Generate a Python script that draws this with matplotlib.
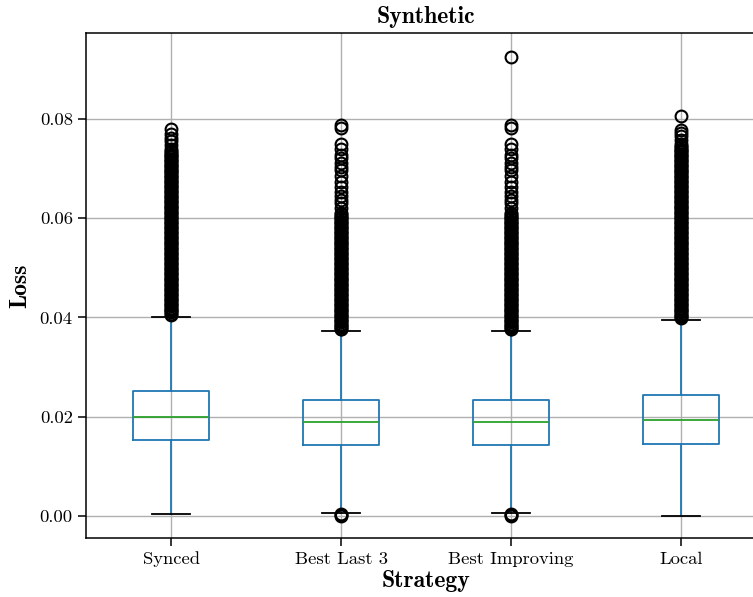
import matplotlib
matplotlib.use('Agg')
import matplotlib.pyplot as plt

plt.rcParams['font.family'] = 'cmr10'
plt.rcParams['axes.formatter.use_mathtext'] = True

strategies = ['Synced', 'Best Last 3', 'Best Improving', 'Local']

# box statistics per strategy
q1 = [0.0153, 0.0143, 0.0143, 0.0145]
med = [0.0199, 0.0189, 0.0189, 0.0193]
q3 = [0.0252, 0.0234, 0.0234, 0.0244]
whislo = [0.0004, 0.0006, 0.0006, 0.0001]
whishi = [0.0401, 0.0373, 0.0373, 0.0395]

# outliers
fliers_synced = [
    0.04050, 0.04075, 0.04100, 0.04125, 0.04150, 0.04175,
    0.04200, 0.04225, 0.04250, 0.04275, 0.04300, 0.04325, 0.04350, 0.04375,
    0.04400, 0.04425, 0.04450, 0.04475, 0.04500, 0.04525, 0.04550, 0.04575,
    0.04600, 0.04625, 0.04650, 0.04675, 0.04700, 0.04725, 0.04750, 0.04775,
    0.04800, 0.04825, 0.04850, 0.04875, 0.04900, 0.04925, 0.04950, 0.04975,
    0.05000, 0.05025, 0.05050, 0.05075, 0.05100, 0.05125, 0.05150, 0.05175,
    0.05200, 0.05225, 0.05250, 0.05275, 0.05300, 0.05325, 0.05350, 0.05375,
    0.05400, 0.05425, 0.05450, 0.05475, 0.05500, 0.05525, 0.05550, 0.05575,
    0.05600, 0.05625, 0.05650, 0.05675, 0.05700, 0.05725, 0.05750, 0.05775,
    0.05800, 0.05825, 0.05850, 0.05875, 0.05900, 0.05925, 0.05950, 0.05975,
    0.06000, 0.06025, 0.06050, 0.06075, 0.06100, 0.06125, 0.06150, 0.06175,
    0.06200, 0.06225, 0.06250, 0.06275, 0.06300, 0.06325, 0.06350, 0.06375,
    0.06400, 0.06425, 0.06450, 0.06475, 0.06500, 0.06525, 0.06550, 0.06575,
    0.06600, 0.06625, 0.06650, 0.06675, 0.06700, 0.06725, 0.06750, 0.06775,
    0.06800, 0.06825, 0.06850, 0.06875, 0.06900, 0.06925, 0.06950, 0.06975,
    0.07000, 0.07025, 0.07050, 0.07075, 0.07100, 0.07125, 0.07150, 0.07175,
    0.07200, 0.07225, 0.07250, 0.07275, 0.07300, 0.07325, 0.07350,
    0.0740, 0.0748, 0.0755, 0.0762, 0.0770, 0.0780,
]
fliers_last3 = [
    0.0000, 0.0002, 0.0004,
    0.03760, 0.03775, 0.03800, 0.03825, 0.03850, 0.03875, 0.03900, 0.03925,
    0.03950, 0.03975, 0.04000, 0.04025, 0.04050, 0.04075, 0.04100, 0.04125,
    0.04150, 0.04175, 0.04200, 0.04225, 0.04250, 0.04275, 0.04300, 0.04325,
    0.04350, 0.04375, 0.04400, 0.04425, 0.04450, 0.04475, 0.04500, 0.04525,
    0.04550, 0.04575, 0.04600, 0.04625, 0.04650, 0.04675, 0.04700, 0.04725,
    0.04750, 0.04775, 0.04800, 0.04825, 0.04850, 0.04875, 0.04900, 0.04925,
    0.04950, 0.04975, 0.05000, 0.05025, 0.05050, 0.05075, 0.05100, 0.05125,
    0.05150, 0.05175, 0.05200, 0.05225, 0.05250, 0.05275, 0.05300, 0.05325,
    0.05350, 0.05375, 0.05400, 0.05425, 0.05450, 0.05475, 0.05500, 0.05525,
    0.05550, 0.05575, 0.05600, 0.05625, 0.05650, 0.05675, 0.05700, 0.05725,
    0.05750, 0.05775, 0.05800, 0.05825, 0.05850, 0.05875, 0.05900, 0.05925,
    0.05950, 0.05975, 0.06000, 0.06025, 0.06050, 0.06075, 0.06100,
    0.0620, 0.0630, 0.0637, 0.0645, 0.0653, 0.0663, 0.0673, 0.0685, 0.0697,
    0.0703, 0.0712, 0.0721, 0.0727, 0.0740, 0.0750, 0.0782, 0.0788,
]
# same spread as Best Last 3, plus one far outlier
fliers_improving = fliers_last3 + [0.0925]
fliers_local = [
    0.03980, 0.04000, 0.04025, 0.04050, 0.04075, 0.04100, 0.04125, 0.04150, 0.04175,
    0.04200, 0.04225, 0.04250, 0.04275, 0.04300, 0.04325, 0.04350, 0.04375,
    0.04400, 0.04425, 0.04450, 0.04475, 0.04500, 0.04525, 0.04550, 0.04575,
    0.04600, 0.04625, 0.04650, 0.04675, 0.04700, 0.04725, 0.04750, 0.04775,
    0.04800, 0.04825, 0.04850, 0.04875, 0.04900, 0.04925, 0.04950, 0.04975,
    0.05000, 0.05025, 0.05050, 0.05075, 0.05100, 0.05125, 0.05150, 0.05175,
    0.05200, 0.05225, 0.05250, 0.05275, 0.05300, 0.05325, 0.05350, 0.05375,
    0.05400, 0.05425, 0.05450, 0.05475, 0.05500, 0.05525, 0.05550, 0.05575,
    0.05600, 0.05625, 0.05650, 0.05675, 0.05700, 0.05725, 0.05750, 0.05775,
    0.05800, 0.05825, 0.05850, 0.05875, 0.05900, 0.05925, 0.05950, 0.05975,
    0.06000, 0.06025, 0.06050, 0.06075, 0.06100, 0.06125, 0.06150, 0.06175,
    0.06200, 0.06225, 0.06250, 0.06275, 0.06300, 0.06325, 0.06350, 0.06375,
    0.06400, 0.06425, 0.06450, 0.06475, 0.06500, 0.06525, 0.06550, 0.06575,
    0.06600, 0.06625, 0.06650, 0.06675, 0.06700, 0.06725, 0.06750, 0.06775,
    0.06800, 0.06825, 0.06850, 0.06875, 0.06900, 0.06925, 0.06950, 0.06975,
    0.07000, 0.07025, 0.07050, 0.07075, 0.07100, 0.07125, 0.07150, 0.07175,
    0.07200, 0.07225, 0.07250, 0.07275, 0.07300, 0.07325, 0.07350, 0.07375,
    0.07400, 0.07425, 0.07450, 0.07500,
    0.0758, 0.0765, 0.0772, 0.0778, 0.0805,
]
fliers = [fliers_synced, fliers_last3, fliers_improving, fliers_local]

stats = []
for i, name in enumerate(strategies):
    stats.append({'label': name, 'q1': q1[i], 'med': med[i], 'q3': q3[i],
                  'whislo': whislo[i], 'whishi': whishi[i], 'fliers': fliers[i]})

fig = plt.figure(figsize=(7.53, 5.97), dpi=100)
ax = fig.add_axes([0.1142, 0.0988, 0.9032, 0.8459])

lw = 1.3
ax.bxp(stats, widths=0.45, patch_artist=False,
       boxprops=dict(color='C0', linewidth=lw),
       whiskerprops=dict(color='C0', linewidth=lw),
       medianprops=dict(color='C2', linewidth=lw),
       capprops=dict(color='k', linewidth=lw),
       flierprops=dict(marker='o', markerfacecolor='none', markeredgecolor='k',
                       markersize=8.5, markeredgewidth=1.5))

ax.grid(True, color='#b0b0b0', linewidth=1.0)
ax.set_axisbelow(True)
for s in ax.spines.values():
    s.set_linewidth(1.1)
ax.set_xlim(0.5, 4.5)
ax.set_ylim(-0.00443, 0.0973)
ax.set_yticks([0.00, 0.02, 0.04, 0.06, 0.08])
ax.set_yticklabels(['0.00', '0.02', '0.04', '0.06', '0.08'])
ax.tick_params(labelsize=13.4, length=6, width=1.1)

ax.set_title('Synthetic', fontfamily='cmb10', fontsize=17, pad=7)
ax.set_xlabel('Strategy', fontfamily='cmb10', fontsize=17, labelpad=2)
ax.set_ylabel('Loss', fontfamily='cmb10', fontsize=17, labelpad=6)

fig.savefig('out.png', dpi=100)
